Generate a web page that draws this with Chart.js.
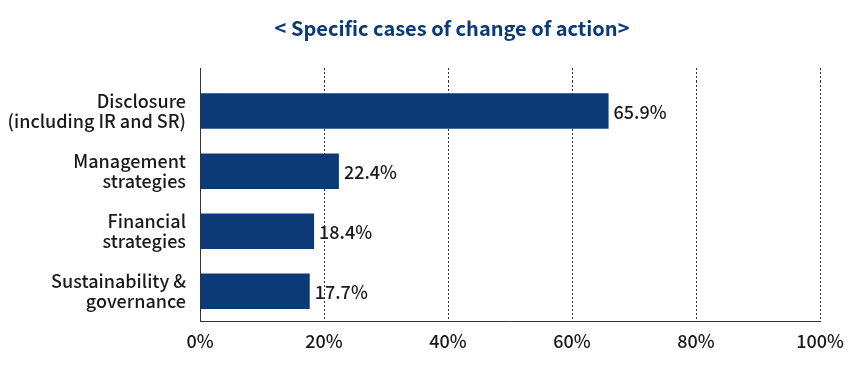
<!DOCTYPE html>
<html>
<head>
<meta charset="utf-8">
<script src="https://cdn.jsdelivr.net/npm/chart.js@4.4.0/dist/chart.umd.min.js"></script>
<style>
  html, body { margin: 0; padding: 0; background: #fff; }
  #wrap { width: 854px; height: 389px; }
</style>
</head>
<body>
<div id="wrap"><canvas id="chart"></canvas></div>
<script>
const categories = [
  ["Disclosure", "(including IR and SR)"],
  ["Management", "strategies"],
  ["Financial", "strategies"],
  ["Sustainability &", "governance"]
];
const shares = [65.9, 22.4, 18.4, 17.7];
const tickValues = [0, 20, 40, 60, 80, 100];
const titleText = "< Specific cases of change of action>";

const navy = "#0b3a76";
const ink = "#1a1a1a";
const font = "'Noto Sans CJK JP', 'Noto Sans', sans-serif";

// title sits off-centre in the original, so it is drawn here
const titleDraw = {
  id: "titleDraw",
  afterDraw(chart) {
    const { ctx } = chart;
    ctx.save();
    ctx.font = "bold 20px " + font;
    ctx.fillStyle = navy;
    ctx.textAlign = "center";
    ctx.textBaseline = "middle";
    ctx.fillText(titleText, 452, 28);
    ctx.restore();
  }
};

// grid lines run a bit above the first bar, draw that part by hand
const gridTop = {
  id: "gridTop",
  beforeDatasetsDraw(chart) {
    const { ctx, chartArea, scales } = chart;
    const top = chartArea.top - 13;
    ctx.save();
    ctx.strokeStyle = "#333";
    ctx.lineWidth = 1;
    tickValues.forEach(v => {
      const x = Math.round(scales.x.getPixelForValue(v)) + 0.5;
      ctx.setLineDash(v === 0 ? [] : [2, 2]);
      ctx.beginPath();
      ctx.moveTo(x, top);
      ctx.lineTo(x, chartArea.top);
      ctx.stroke();
    });
    ctx.restore();
  }
};

const valueLabels = {
  id: "valueLabels",
  afterDatasetsDraw(chart) {
    const { ctx } = chart;
    const meta = chart.getDatasetMeta(0);
    ctx.save();
    ctx.font = "500 18px " + font;
    ctx.fillStyle = ink;
    ctx.textAlign = "left";
    ctx.textBaseline = "middle";
    meta.data.forEach((bar, i) => {
      ctx.fillText(shares[i].toFixed(1) + "%", bar.x + 5, bar.y + 1);
    });
    ctx.restore();
  }
};

new Chart(document.getElementById("chart"), {
  type: "bar",
  data: {
    labels: categories,
    datasets: [{
      data: shares,
      backgroundColor: navy,
      barPercentage: 0.59,
      categoryPercentage: 1
    }]
  },
  options: {
    indexAxis: "y",
    responsive: true,
    maintainAspectRatio: false,
    animation: false,
    layout: { padding: { left: 0, right: 34, top: 81, bottom: 28 } },
    plugins: {
      legend: { display: false },
      tooltip: { enabled: false },
      title: { display: false }
    },
    scales: {
      x: {
        min: 0,
        max: 100,
        afterBuildTicks(scale) {
          scale.ticks = tickValues.map(v => ({ value: v }));
        },
        ticks: {
          callback: v => v + "%",
          color: ink,
          padding: 9,
          font: { family: font, size: 18, weight: "500" }
        },
        grid: { color: "#333", lineWidth: 1, drawTicks: false },
        border: { display: true, color: "#333", width: 1, dash: [2, 2] }
      },
      y: {
        afterFit(scale) { scale.width = 200; },
        ticks: {
          color: ink,
          padding: 14,
          font: { family: font, size: 18, weight: "500", lineHeight: 1.08 }
        },
        grid: { display: false, drawTicks: false },
        border: { display: true, color: "#333", width: 1 }
      }
    }
  },
  plugins: [gridTop, valueLabels, titleDraw]
});
</script>
</body>
</html>
